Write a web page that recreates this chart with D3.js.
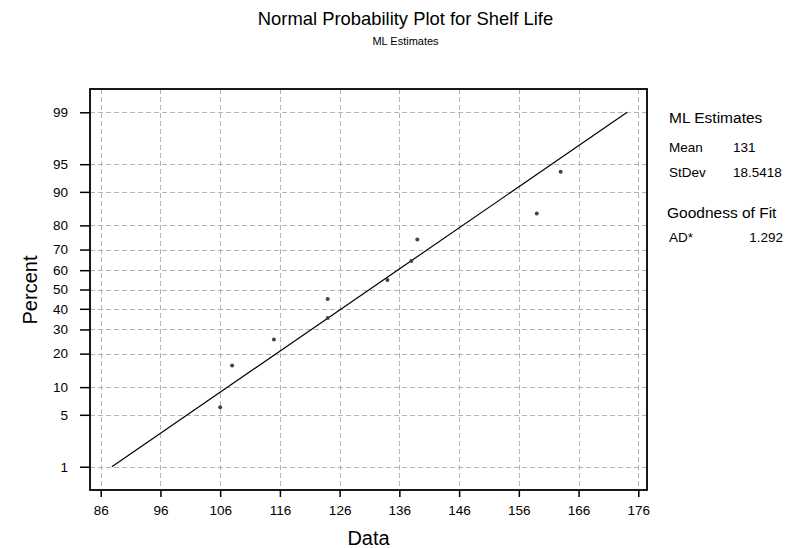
<!DOCTYPE html>
<html>
<head>
<meta charset="utf-8">
<script src="https://cdn.jsdelivr.net/npm/d3@7"></script>
<style>
  html, body { margin: 0; padding: 0; background: #fff; }
  svg { display: block; font-family: "Liberation Sans", Arial, sans-serif; }
</style>
</head>
<body>
<svg id="chart" width="787" height="548"></svg>
<script>
// ---- data ----
const shelfLife = [106, 108, 115, 124, 124, 134, 138, 139, 159, 163];
const percents  = [6.1, 15.9, 25.6, 35.4, 45.1, 54.9, 64.6, 74.4, 84.1, 93.9];
const fitData    = [87.87, 174.13];
const fitPercent = [1, 99];
const xTicks = [86, 96, 106, 116, 126, 136, 146, 156, 166, 176];
const yTicks = [1, 5, 10, 20, 30, 40, 50, 60, 70, 80, 90, 95, 99];
const statsLabels = ["Mean", "StDev"];
const statsValues = ["131", "18.5418"];
const gofLabel = "AD*";
const gofValue = "1.292";

// inverse normal CDF (Acklam)
function qnorm(p) {
  const a = [-3.969683028665376e+01, 2.209460984245205e+02, -2.759285104469687e+02, 1.383577518672690e+02, -3.066479806614716e+01, 2.506628277459239e+00];
  const b = [-5.447609879822406e+01, 1.615858368580409e+02, -1.556989798598866e+02, 6.680131188771972e+01, -1.328068155288572e+01];
  const c = [-7.784894002430293e-03, -3.223964580411365e-01, -2.400758277161838e+00, -2.549671464208663e+00, 4.374664141464968e+00, 2.938163982698783e+00];
  const d = [7.784695709041462e-03, 3.224671290700398e-01, 2.445134137142996e+00, 3.754408661907416e+00];
  const pl = 0.02425, ph = 1 - pl;
  let q, r;
  if (p < pl) {
    q = Math.sqrt(-2 * Math.log(p));
    return (((((c[0]*q+c[1])*q+c[2])*q+c[3])*q+c[4])*q+c[5]) / ((((d[0]*q+d[1])*q+d[2])*q+d[3])*q+1);
  } else if (p <= ph) {
    q = p - 0.5; r = q * q;
    return (((((a[0]*r+a[1])*r+a[2])*r+a[3])*r+a[4])*r+a[5])*q / (((((b[0]*r+b[1])*r+b[2])*r+b[3])*r+b[4])*r+1);
  } else {
    q = Math.sqrt(-2 * Math.log(1 - p));
    return -(((((c[0]*q+c[1])*q+c[2])*q+c[3])*q+c[4])*q+c[5]) / ((((d[0]*q+d[1])*q+d[2])*q+d[3])*q+1);
  }
}

const svg = d3.select("#chart");
const L = 90, R = 647, T = 89, B = 490;

const x = d3.scaleLinear().domain([84.209, 177.456]).range([L, R]);
const zScale = d3.scaleLinear().domain([-2.632, 2.632]).range([B, T]);
const y = p => zScale(qnorm(p / 100));

// grid
const grid = svg.append("g").attr("stroke", "#b4b4b4").attr("stroke-width", 1)
  .attr("stroke-dasharray", "5,3").attr("fill", "none");
grid.selectAll("line.v").data(xTicks).join("line").attr("class", "v")
  .attr("x1", d => Math.round(x(d)) + 0.5).attr("x2", d => Math.round(x(d)) + 0.5)
  .attr("y1", T).attr("y2", B);
grid.selectAll("line.h").data(yTicks).join("line").attr("class", "h")
  .attr("y1", d => Math.round(y(d)) + 0.5).attr("y2", d => Math.round(y(d)) + 0.5)
  .attr("x1", L).attr("x2", R);

// axes
const xAxis = d3.axisBottom(x).tickValues(xTicks).tickSize(7).tickSizeOuter(0).tickPadding(8);
const gx = svg.append("g").attr("transform", `translate(0,${B})`).call(xAxis);
gx.select(".domain").remove();
gx.selectAll("line").attr("stroke", "#000").attr("stroke-width", 1.5);
gx.selectAll("text").attr("font-size", 13.5).attr("fill", "#000")
  .attr("font-family", "Liberation Sans, Arial, sans-serif");

const yAxisScale = d3.scaleLinear().domain(zScale.domain()).range(zScale.range());
const yAxis = d3.axisLeft(yAxisScale).tickValues(yTicks.map(p => qnorm(p / 100)))
  .tickFormat((d, i) => yTicks[i]).tickSize(10).tickSizeOuter(0).tickPadding(12);
const gy = svg.append("g").attr("transform", `translate(${L},0)`).call(yAxis);
gy.select(".domain").remove();
gy.selectAll("line").attr("stroke", "#000").attr("stroke-width", 1.5);
gy.selectAll("text").attr("font-size", 13.5).attr("fill", "#000")
  .attr("font-family", "Liberation Sans, Arial, sans-serif");

// frame
svg.append("rect").attr("x", L).attr("y", T).attr("width", R - L).attr("height", B - T)
  .attr("fill", "none").attr("stroke", "#000").attr("stroke-width", 1.8);

// fitted line
const fitPts = fitData.map((d, i) => [x(d), y(fitPercent[i])]);
svg.append("path").attr("d", d3.line()(fitPts)).attr("stroke", "#000")
  .attr("stroke-width", 1.2).attr("fill", "none");

// points
svg.append("g").selectAll("circle").data(shelfLife).join("circle")
  .attr("cx", d => x(d)).attr("cy", (d, i) => y(percents[i]))
  .attr("r", 2).attr("fill", "#444");

// titles
svg.append("text").attr("x", 405.5).attr("y", 25).attr("text-anchor", "middle")
  .attr("font-size", 18.4).text("Normal Probability Plot for Shelf Life");
svg.append("text").attr("x", 405.5).attr("y", 45).attr("text-anchor", "middle")
  .attr("font-size", 11).text("ML Estimates");
svg.append("text").attr("x", (L + R) / 2).attr("y", 545).attr("text-anchor", "middle")
  .attr("font-size", 20).text("Data");
svg.append("text").attr("transform", "translate(37,290) rotate(-90)").attr("text-anchor", "middle")
  .attr("font-size", 20).text("Percent");

// legend
const lg = svg.append("g");
lg.append("text").attr("x", 669).attr("y", 123).attr("font-size", 15.5).text("ML Estimates");
lg.selectAll("text.sl").data(statsLabels).join("text").attr("class", "sl")
  .attr("x", 669).attr("y", (d, i) => 152 + i * 25).attr("font-size", 13.5).text(d => d);
lg.selectAll("text.sv").data(statsValues).join("text").attr("class", "sv")
  .attr("x", 733).attr("y", (d, i) => 152 + i * 25).attr("font-size", 13.5).text(d => d);
lg.append("text").attr("x", 667).attr("y", 218).attr("font-size", 15.5).text("Goodness of Fit");
lg.append("text").attr("x", 669).attr("y", 242).attr("font-size", 13.5).text(gofLabel);
lg.append("text").attr("x", 783).attr("y", 242).attr("text-anchor", "end").attr("font-size", 13.5).text(gofValue);
</script>
</body>
</html>
